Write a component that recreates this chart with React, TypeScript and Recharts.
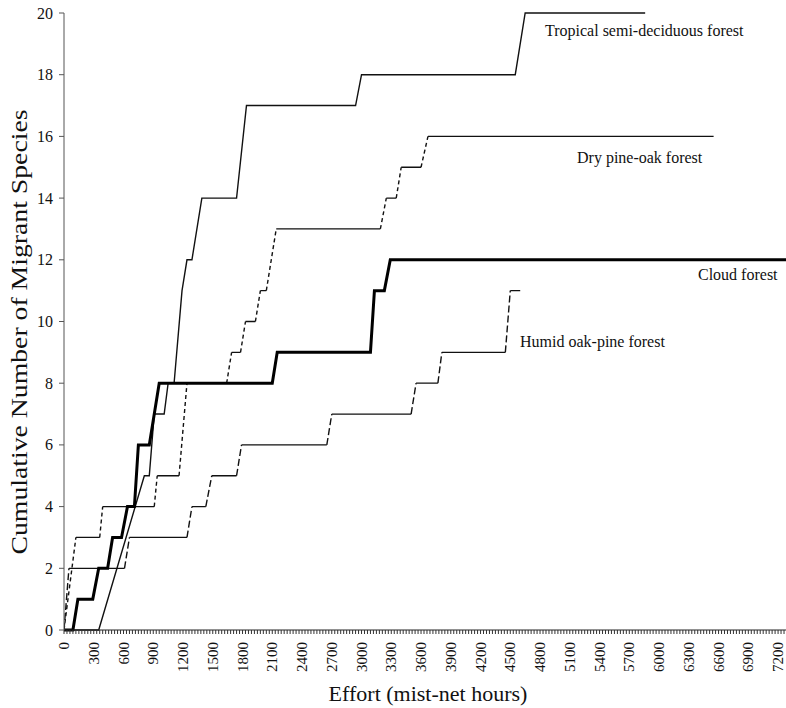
import React from 'react';
import { LineChart, Line, XAxis, YAxis } from 'recharts';

// ---- data (effort in mist-net hours, cumulative species) ----
const tropicalX = [0, 350, 810, 860, 910, 1010, 1050, 1110, 1190, 1240, 1290, 1390, 1740, 1840, 2940, 3000, 4550, 4650, 5860];
const tropicalY = [0, 0, 5, 5, 7, 7, 8, 8, 11, 12, 12, 14, 14, 17, 17, 18, 18, 20, 20];

const dryX = [0, 120, 360, 390, 910, 940, 1160, 1240, 1640, 1690, 1780, 1830, 1930, 1980, 2040, 2140, 3190, 3250, 3350, 3400, 3600, 3670, 6550];
const dryY = [0, 3, 3, 4, 4, 5, 5, 8, 8, 9, 9, 10, 10, 11, 11, 13, 13, 14, 14, 15, 15, 16, 16];

const cloudX = [0, 90, 140, 290, 350, 440, 490, 580, 640, 710, 750, 860, 960, 2100, 2150, 3090, 3130, 3230, 3290, 7280];
const cloudY = [0, 0, 1, 1, 2, 2, 3, 3, 4, 4, 6, 6, 8, 8, 9, 9, 11, 11, 12, 12];

const humidX = [0, 50, 610, 660, 1240, 1290, 1430, 1490, 1740, 1790, 2650, 2700, 3500, 3550, 3770, 3810, 4450, 4500, 4600];
const humidY = [0, 2, 2, 3, 3, 4, 4, 5, 5, 6, 6, 7, 7, 8, 8, 9, 9, 11, 11];

const xMajorTicks = [0, 300, 600, 900, 1200, 1500, 1800, 2100, 2400, 2700, 3000, 3300, 3600, 3900, 4200, 4500, 4800, 5100, 5400, 5700, 6000, 6300, 6600, 6900, 7200];
const yTicks = [0, 2, 4, 6, 8, 10, 12, 14, 16, 18, 20];
const seriesLabels = ['Tropical semi-deciduous forest', 'Dry pine-oak forest', 'Cloud forest', 'Humid oak-pine forest'];
const xTitle = 'Effort (mist-net hours)';
const yTitle = 'Cumulative Number of Migrant Species';

// ---- helpers ----
type Pt = { x: number; y: number | null };
const toPts = (xs: number[], ys: number[]): Pt[] => xs.map((x, i) => ({ x, y: ys[i] }));

// split a step curve into flat pieces and riser pieces, separated by null breaks
const splitSegments = (xs: number[], ys: number[], flat: boolean): Pt[] => {
  const out: Pt[] = [];
  for (let i = 0; i < xs.length - 1; i++) {
    const isFlat = ys[i] === ys[i + 1];
    if (isFlat === flat) {
      out.push({ x: xs[i], y: ys[i] });
      out.push({ x: xs[i + 1], y: ys[i + 1] });
      out.push({ x: xs[i + 1], y: null });
    }
  }
  return out;
};

// minor ticks every 30 hours
const minorTicks: number[] = [];
for (let v = 0; v <= 7260; v += 30) minorTicks.push(v);

const FONT = '"Liberation Serif", "Times New Roman", serif';

const XTick = (props: any) => {
  const { x, y, payload } = props;
  const v = payload.value;
  if (!xMajorTicks.includes(v)) return null;
  return (
    <text
      x={x}
      y={y}
      transform={`rotate(-90, ${x}, ${y})`}
      textAnchor="end"
      dominantBaseline="central"
      fontFamily={FONT}
      fontSize={15}
      fill="#111"
    >
      {v}
    </text>
  );
};

const YTick = (props: any) => {
  const { x, y, payload } = props;
  return (
    <text x={x} y={y} textAnchor="end" dominantBaseline="central" fontFamily={FONT} fontSize={16} fill="#111">
      {payload.value}
    </text>
  );
};

export default function App() {
  const W = 786;
  const H = 708;
  return (
    <div style={{ position: 'absolute', left: 0, top: 0, width: W, height: H, background: '#fff' }}>
      <LineChart width={W} height={H} margin={{ top: 13, right: 0, bottom: 0, left: 0 }}>
        <XAxis
          type="number"
          dataKey="x"
          domain={[0, 7280]}
          ticks={minorTicks}
          interval={0}
          tick={<XTick />}
          tickSize={4}
          tickMargin={8}
          height={78}
          axisLine={{ stroke: '#222', strokeWidth: 1 }}
          tickLine={{ stroke: '#333', strokeWidth: 1 }}
          allowDataOverflow
        />
        <YAxis
          type="number"
          domain={[0, 20]}
          ticks={yTicks}
          interval={0}
          width={64}
          tick={<YTick />}
          tickSize={5}
          tickMargin={6}
          axisLine={{ stroke: '#555', strokeWidth: 1 }}
          tickLine={{ stroke: '#555', strokeWidth: 1 }}
        />
        <Line data={toPts(tropicalX, tropicalY)} dataKey="y" type="linear" stroke="#111" strokeWidth={1.4} dot={false} isAnimationActive={false} />
        <Line data={splitSegments(dryX, dryY, true)} dataKey="y" type="linear" stroke="#111" strokeWidth={1.3} dot={false} isAnimationActive={false} />
        <Line data={splitSegments(dryX, dryY, false)} dataKey="y" type="linear" stroke="#111" strokeWidth={1.4} strokeDasharray="4 3" dot={false} isAnimationActive={false} />
        <Line data={splitSegments(humidX, humidY, true)} dataKey="y" type="linear" stroke="#111" strokeWidth={1.3} dot={false} isAnimationActive={false} />
        <Line data={splitSegments(humidX, humidY, false)} dataKey="y" type="linear" stroke="#111" strokeWidth={1.4} strokeDasharray="7 3" dot={false} isAnimationActive={false} />
        <Line data={toPts(cloudX, cloudY)} dataKey="y" type="linear" stroke="#000" strokeWidth={3} dot={false} isAnimationActive={false} />
      </LineChart>
      <svg width={W} height={H} style={{ position: 'absolute', left: 0, top: 0, pointerEvents: 'none' }}>
        <g fontFamily={FONT} fill="#111">
          <text x={545} y={36} fontSize={16}>{seriesLabels[0]}</text>
          <text x={577} y={163} fontSize={16}>{seriesLabels[1]}</text>
          <text x={698} y={280} fontSize={16}>{seriesLabels[2]}</text>
          <text x={520} y={347} fontSize={16}>{seriesLabels[3]}</text>
          <text x={428} y={701} fontSize={22} textAnchor="middle">{xTitle}</text>
          <text
            x={27}
            y={332}
            fontSize={23}
            textAnchor="middle"
            textLength={445}
            lengthAdjust="spacingAndGlyphs"
            transform="rotate(-90, 27, 332)"
          >
            {yTitle}
          </text>
        </g>
      </svg>
    </div>
  );
}
